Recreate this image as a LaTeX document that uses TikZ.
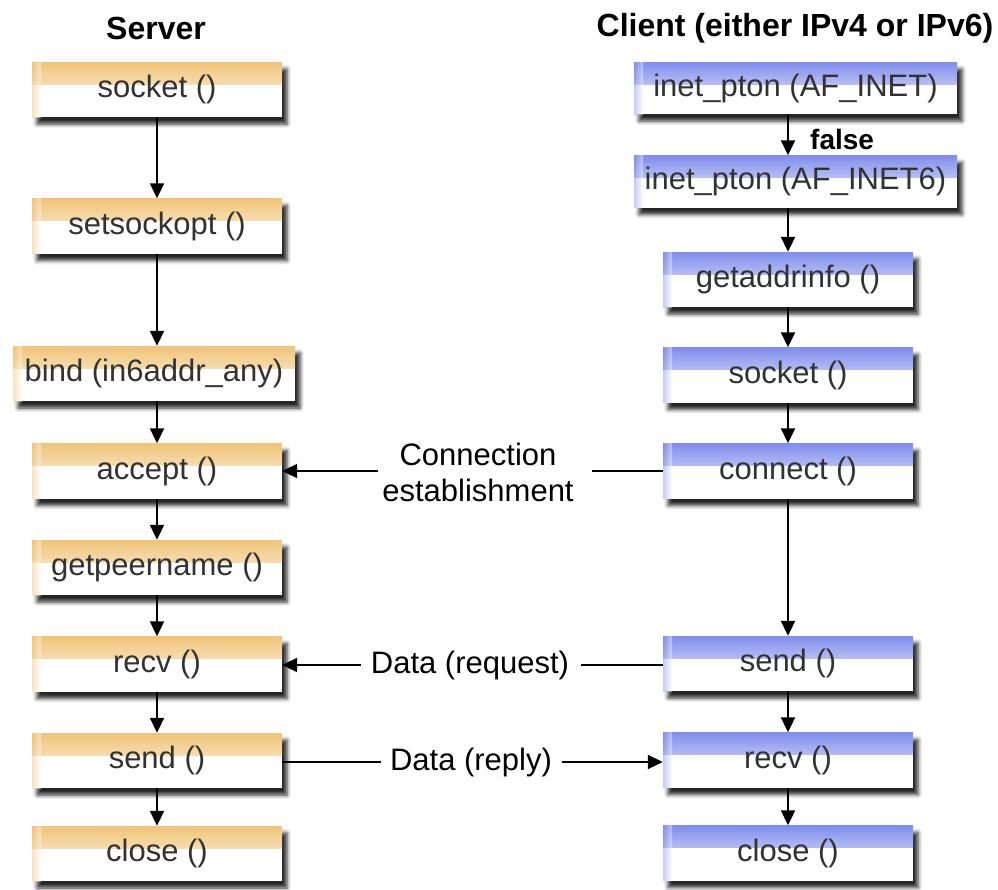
\documentclass[tikz,border=0pt]{standalone}
\usepackage{fontspec}
\setmainfont{Liberation Sans}
\usetikzlibrary{shadows.blur,arrows.meta}
\definecolor{orC}{RGB}{240,196,120}
\definecolor{blC}{RGB}{128,142,236}
\definecolor{txtC}{RGB}{50,50,50}
\newcommand\myboxfont{\fontsize{31}{36}\selectfont}
\begin{document}
\begin{tikzpicture}[x=1pt,y=-1pt,
  fnbox/.style={minimum width=250pt, minimum height=55pt, inner sep=0pt, fill=white,
    text=txtC, font=\myboxfont,
    blur shadow={shadow xshift=5pt, shadow yshift=-7pt, shadow blur radius=4pt, shadow opacity=85}},
  srv/.style={fnbox, path picture={
     \shade[top color=orC, middle color=orC!30, bottom color=white] (path picture bounding box.north west) rectangle ([yshift=-22pt]path picture bounding box.north east);
     \shade[left color=orC, right color=white, opacity=0.45] (path picture bounding box.north west) rectangle ([xshift=9pt]path picture bounding box.south west);}},
  cli/.style={fnbox, path picture={
     \shade[top color=blC, middle color=blC!30, bottom color=white] (path picture bounding box.north west) rectangle ([yshift=-22pt]path picture bounding box.north east);
     \shade[left color=blC, right color=white, opacity=0.45] (path picture bounding box.north west) rectangle ([xshift=9pt]path picture bounding box.south west);}},
  flow/.style={line width=2pt, -{Triangle[length=15pt,width=14pt]}},
  plain/.style={line width=2pt},
  lbl/.style={font=\myboxfont, text=black, inner sep=0pt},
  ttl/.style={font=\fontsize{32}{36}\selectfont\bfseries, text=black, inner sep=0pt}
]
\useasboundingbox (0,0) rectangle (998,889);

% titles
\node[ttl] (tS) at (156,28) {Server};
\node[ttl] (tC) at (795,28) {Client (either IPv4 or IPv6)};

% server
\node[srv] (s1) at (157,89.5) {socket ()};
\node[srv] (s2) at (157,226) {setsockopt ()};
\node[srv, minimum width=282pt] (s3) at (154,373.5) {bind (in6addr\_any)};
\node[srv] (s4) at (157,471) {accept ()};
\node[srv] (s5) at (157,567.5) {getpeername ()};
\node[srv] (s6) at (157,664) {recv ()};
\node[srv] (s7) at (157,760.5) {send ()};
\node[srv] (s8) at (157,853.5) {close ()};

% client
\node[cli, minimum width=323pt, minimum height=52pt] (c1) at (795.5,88) {inet\_pton (AF\_INET)};
\node[cli, minimum width=323pt, minimum height=52pt] (c2) at (795.5,181.5) {inet\_pton (AF\_INET6)};
\node[cli] (c3) at (788,279.5) {getaddrinfo ()};
\node[cli] (c4) at (788,375) {socket ()};
\node[cli] (c5) at (788,471) {connect ()};
\node[cli] (c6) at (788,663.5) {send ()};
\node[cli] (c7) at (788,760) {recv ()};
\node[cli] (c8) at (788,853) {close ()};

% server flow
\draw[flow] (s1) -- (s2);
\draw[flow] (s2.south -| s1.center) -- (s3.north -| s1.center);
\draw[flow] (s3.south -| s1.center) -- (s4);
\draw[flow] (s4) -- (s5);
\draw[flow] (s5) -- (s6);
\draw[flow] (s6) -- (s7);
\draw[flow] (s7) -- (s8);

% client flow
\draw[flow] (c1.south -| c3.center) -- (c2.north -| c3.center);
\node[font=\fontsize{28}{32}\selectfont\bfseries, anchor=west, inner sep=0pt] (fl) at (810,139) {false};
\draw[flow] (c2.south -| c3.center) -- (c3);
\draw[flow] (c3) -- (c4);
\draw[flow] (c4) -- (c5);
\draw[flow] (c5) -- (c6);
\draw[flow] (c6) -- (c7);
\draw[flow] (c7) -- (c8);

% horizontal messages
\node[lbl, align=center] (conn) at (478,472) {Connection\\establishment};
\draw[plain] (c5.west) -- ([xshift=18pt]c5.west -| conn.east);
\draw[flow] ([xshift=-4pt]s4.east -| conn.west) -- (s4.east);

\node[lbl] (dreq) at (470,665) {Data (request)};
\draw[plain] (c6.west |- dreq) -- ([xshift=12pt]dreq.east);
\draw[flow] ([xshift=-10pt]dreq.west) -- (s6.east |- dreq);

\node[lbl] (drep) at (471,762) {Data (reply)};
\draw[plain] (s7.east |- drep) -- ([xshift=-9pt]drep.west);
\draw[flow] ([xshift=10pt]drep.east) -- (c7.west |- drep);
\end{tikzpicture}
\end{document}
